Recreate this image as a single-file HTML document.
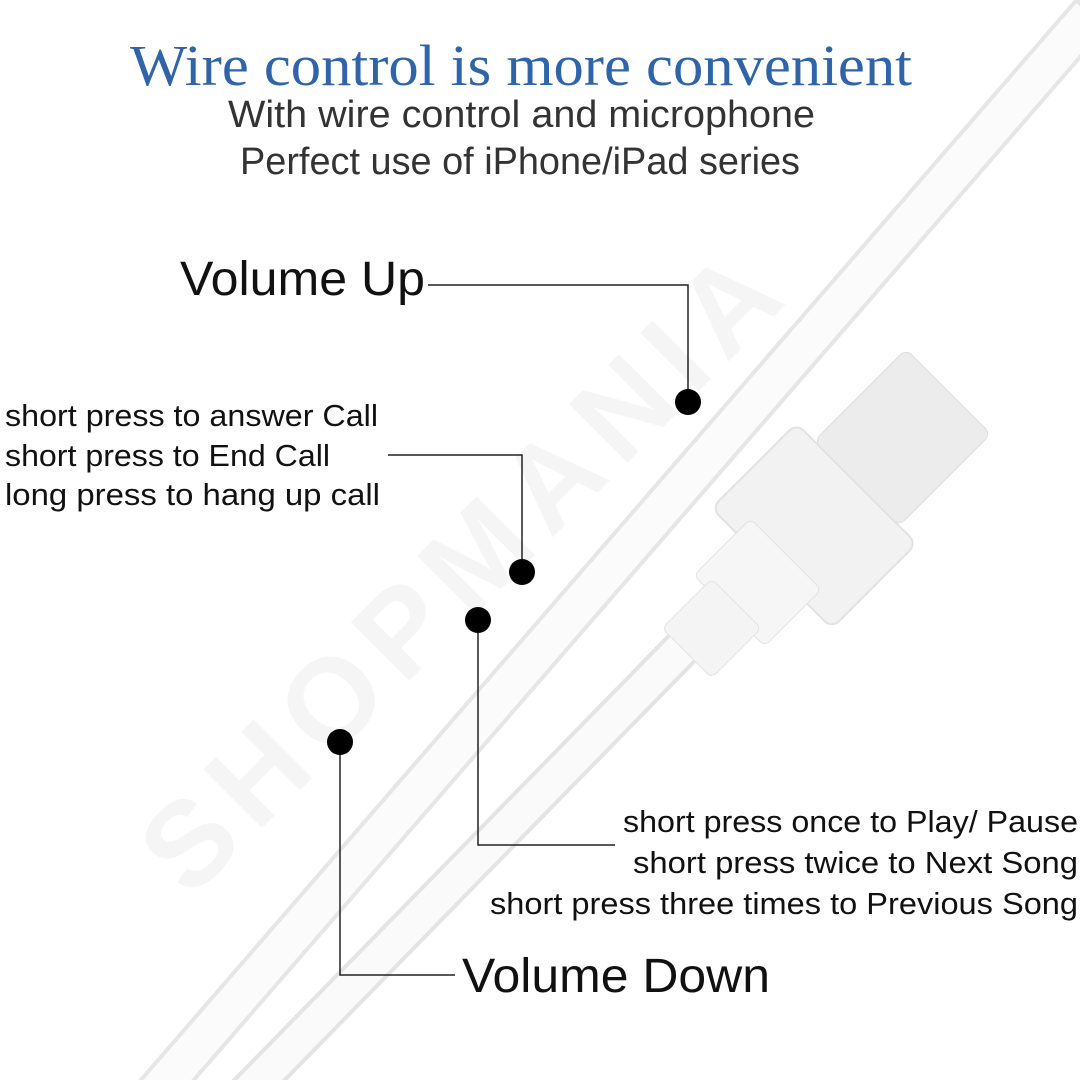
<!DOCTYPE html>
<html><head><meta charset="utf-8"><style>
body{margin:0;background:#fff;}
svg{display:block}
</style></head><body>
<svg width="1080" height="1080" viewBox="0 0 1080 1080" xmlns="http://www.w3.org/2000/svg">
<rect width="1080" height="1080" fill="#fff"/>
<line x1="150" y1="1100" x2="1090" y2="15" stroke="#e6e6e6" stroke-width="44" stroke-linecap="round"/>
<line x1="150" y1="1100" x2="1090" y2="15" stroke="#fbfbfb" stroke-width="36"/>
<line x1="240" y1="1100" x2="690" y2="640" stroke="#e4e4e4" stroke-width="40"/>
<line x1="240" y1="1100" x2="690" y2="640" stroke="#fafafa" stroke-width="32"/>
<g transform="rotate(-45 800 540)">
<rect x="760" y="455" width="120" height="170" rx="10" fill="#f2f2f2" stroke="#e2e2e2" stroke-width="2"/>
<rect x="700" y="490" width="80" height="100" rx="6" fill="#f6f6f6" stroke="#e2e2e2"/>
<rect x="640" y="505" width="70" height="70" rx="6" fill="#f4f4f4" stroke="#e4e4e4"/>
<rect x="880" y="480" width="130" height="120" rx="8" fill="#ececec" stroke="#dedede"/>
</g>
<text x="0" y="0" transform="translate(190 900) rotate(-45)" font-family="Liberation Sans, sans-serif" font-size="120" font-weight="bold" fill="#f5f5f5" letter-spacing="14">SHOPMANIA</text>
<text x="130" y="85" textLength="782" lengthAdjust="spacingAndGlyphs" font-family="Liberation Serif, serif" font-size="58" fill="#2f64a8">Wire control is more convenient</text>
<text x="228" y="127" textLength="587" lengthAdjust="spacingAndGlyphs" font-family="Liberation Sans, sans-serif" font-size="38" fill="#333">With wire control and microphone</text>
<text x="240" y="174" textLength="560" lengthAdjust="spacingAndGlyphs" font-family="Liberation Sans, sans-serif" font-size="38" fill="#333">Perfect use of iPhone/iPad series</text>
<g font-family="Liberation Sans, sans-serif" fill="#111" lengthAdjust="spacingAndGlyphs">
<text x="180" y="295" font-size="48" textLength="245" lengthAdjust="spacingAndGlyphs">Volume Up</text>
<text x="5" y="426" font-size="31" textLength="373" lengthAdjust="spacingAndGlyphs">short press to answer Call</text>
<text x="5" y="466" font-size="31" textLength="325" lengthAdjust="spacingAndGlyphs">short press to End Call</text>
<text x="5" y="505" font-size="31" textLength="375" lengthAdjust="spacingAndGlyphs">long press to hang up call</text>
<text x="623" y="832" font-size="31" textLength="455" lengthAdjust="spacingAndGlyphs">short press once to Play/ Pause</text>
<text x="633" y="873" font-size="31" textLength="445" lengthAdjust="spacingAndGlyphs">short press twice to Next Song</text>
<text x="490" y="914" font-size="31" textLength="588" lengthAdjust="spacingAndGlyphs">short press three times to Previous Song</text>
<text x="462" y="992" font-size="48" textLength="308" lengthAdjust="spacingAndGlyphs">Volume Down</text>
</g>
<g stroke="#222" stroke-width="1.5" fill="none">
<polyline points="428,285 688,285 688,400"/>
<polyline points="388,455 522,455 522,570"/>
<polyline points="478,620 478,845 615,845"/>
<polyline points="340,742 340,975 455,975"/>
</g>
<g fill="#000">
<circle cx="688" cy="402" r="13"/>
<circle cx="522" cy="572" r="13"/>
<circle cx="478" cy="620" r="13"/>
<circle cx="340" cy="742" r="13"/>
</g>
</svg>
</body></html>
